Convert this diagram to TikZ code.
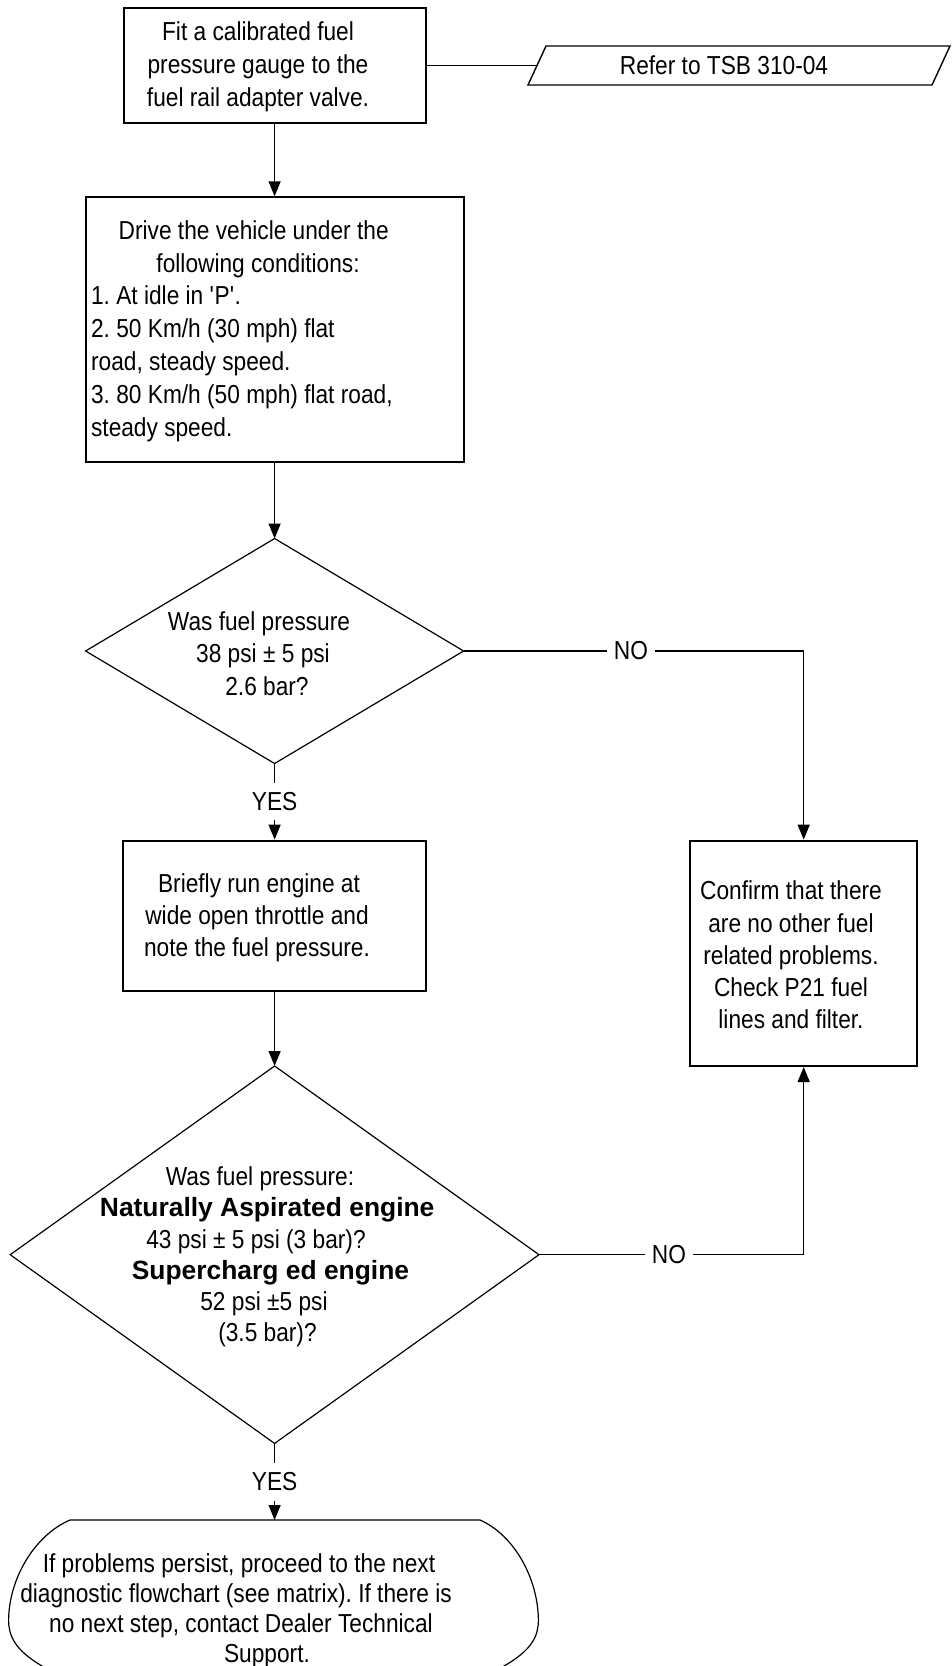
\documentclass[tikz,border=0pt]{standalone}
\usepackage{fontspec}
\setmainfont{Liberation Sans}[FakeStretch=0.873]
\newfontfamily\bfam{Liberation Sans}
\usetikzlibrary{arrows.meta,shapes.geometric}
\newcommand\myfs{\fontsize{13pt}{16.1pt}\selectfont}
\newcommand\bsz{\fontsize{13.2pt}{15.65pt}\selectfont}
\begin{document}
\frenchspacing
\begin{tikzpicture}[x=0.5pt,y=-0.5pt,
  box/.style={draw,line width=1pt,inner sep=0pt},
  dia/.style={diamond,draw,line width=0.6pt,inner sep=0pt,outer sep=0pt},
  txt/.style={align=center,inner sep=0pt,font=\myfs},
  lbl/.style={font=\myfs,fill=white,inner xsep=3.4pt,inner ysep=4.6pt},
  conn/.style={line width=0.7pt},
  arr/.style={conn,-{Triangle[width=6pt,length=7.5pt]}}]
\fill[white] (0,0) rectangle (952,1666);
\useasboundingbox (0,0) rectangle (952,1666);

% boxes and decisions
\node[box,minimum width=151pt,minimum height=57.2pt] (b1) at (274.6,65.5) {};
\node[txt,font=\fontsize{13pt}{16.6pt}\selectfont] (t1) at (258,66.5) {Fit a calibrated fuel\\pressure gauge to the\\fuel rail adapter valve.};

\node[box,minimum width=189pt,minimum height=132.2pt] (b2) at (274.6,329.5) {};
\node[txt,align=left,anchor=west,font=\fontsize{13pt}{16.4pt}\selectfont] (t2) at (90.7,331) {\hspace*{13.8pt}Drive the vehicle under the\\
\hspace*{32.7pt}following conditions:\\
1. At idle in \textquotesingle P\textquotesingle .\\
2. 50 Km/h (30 mph) flat\\
road, steady speed.\\
3. 80 Km/h (50 mph) flat road,\\
steady speed.};

\node[dia,minimum width=189pt,minimum height=112.5pt] (d1) at (274.6,651) {};
\node[txt] (t3) at (263,653.5) {\hspace*{-4pt}Was fuel pressure\\38 psi ± 5 psi\\\hspace*{4pt}2.6 bar?};

\node[box,minimum width=151.2pt,minimum height=75.2pt] (b3) at (274.6,915.8) {};
\node[txt] (t4) at (257,918) {\hspace*{2pt}Briefly run engine at\\wide open throttle and\\note the fuel pressure.};

\node[box,minimum width=113.7pt,minimum height=112.7pt] (b4) at (803.7,953.3) {};
\node[txt] (t5) at (791,955) {Confirm that there\\are no other fuel\\related problems.\\Check P21 fuel\\lines and filter.};

\node[dia,minimum width=264.4pt,minimum height=188.7pt] (d2) at (274.6,1254.7) {};
\node[txt,font=\fontsize{13pt}{15.65pt}\selectfont] (t6) at (264,1257) {\hspace*{-4pt}Was fuel pressure:\\
\hspace*{3.2pt}{\bfam\bfseries\bsz Naturally Aspirated engine}\\
\hspace*{-8pt}43 psi ± 5 psi (3 bar)?\\
\hspace*{6.5pt}{\bfam\bfseries\bsz Supercharg ed engine}\\
52 psi ±5 psi\\
\hspace*{3.5pt}(3.5 bar)?};

% terminal
\draw[line width=0.6pt] (70,1520) -- (480,1520)
  .. controls (514,1535) and (538,1578) .. (538.4,1620)
  .. controls (538.4,1636) and (532,1650) .. (504,1666)
  -- (486,1680) -- (60,1680) -- (42,1666)
  .. controls (15,1650) and (8.6,1636) .. (8.6,1620)
  .. controls (9,1578) and (35,1535) .. cycle;
\coordinate (term) at (274.6,1520);
\node[txt,font=\fontsize{13pt}{15pt}\selectfont] (t7) at (239,1611) {If problems persist, proceed to the next\\
\hspace*{-3pt}diagnostic flowchart (see matrix). If there is\\
\hspace*{2pt}no next step, contact Dealer Technical\\
\hspace*{28pt}Support.};

% reference parallelogram
\draw[line width=0.7pt] (546,46) -- (950,46) -- (932,85) -- (528,85) -- cycle;
\coordinate (referin) at (537.2,65.5);
\node[font=\myfs,inner sep=0pt] (refer) at (724,65) {Refer to TSB 310-04};

% labels
\node[lbl] (no1) at (631,651) {NO};
\node[lbl] (no2) at (669,1254.7) {NO};
\node[lbl] (yes1) at (274.6,801.4) {YES};
\node[lbl] (yes2) at (274.6,1481.7) {YES};

% connectors
\draw[arr] (b1) -- (b2);
\draw[conn] (b1.east) -- (referin);
\draw[arr] (b2) -- (d1);
\draw[conn] (d1.east) -- (no1.west);
\draw[arr] (no1.east) -| (b4.north);
\draw[conn] (d1.south) -- (yes1.north);
\draw[arr] (yes1.south) -- (b3.north);
\draw[arr] (b3) -- (d2);
\draw[conn] (d2.east) -- (no2.west);
\draw[arr] (no2.east) -| (b4.south);
\draw[conn] (d2.south) -- (yes2.north);
\draw[arr] (yes2.south) -- (term);
\end{tikzpicture}
\end{document}
